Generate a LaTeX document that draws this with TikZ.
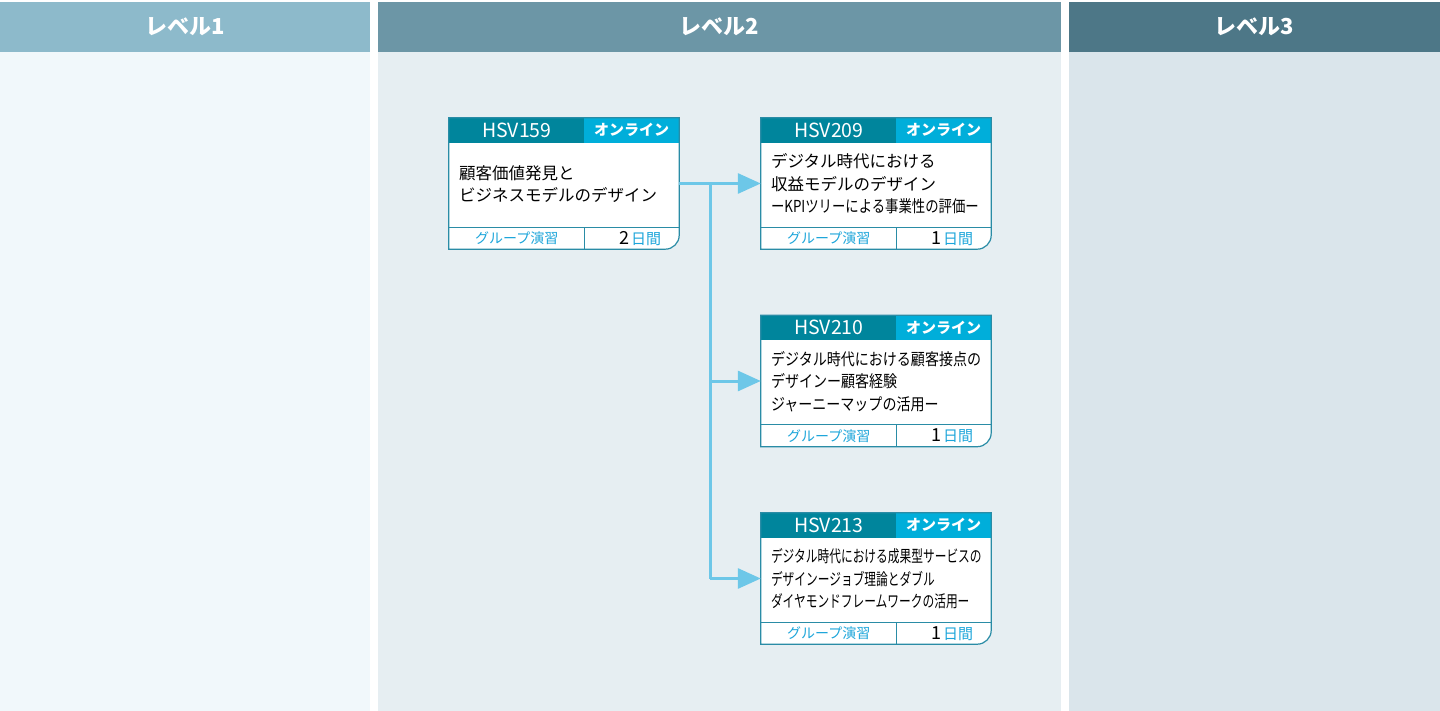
\documentclass[tikz,border=0pt]{standalone}
\usepackage{fontspec}
\setmainfont{Noto Sans CJK JP}
\usepackage{graphicx}
\usepackage{tikz}
\usetikzlibrary{positioning,calc,arrows.meta}

\definecolor{headone}{HTML}{8DBACB}
\definecolor{bodyone}{HTML}{F1F8FB}
\definecolor{headtwo}{HTML}{6C96A6}
\definecolor{bodytwo}{HTML}{E6EEF2}
\definecolor{headthree}{HTML}{4D7787}
\definecolor{bodythree}{HTML}{DAE5EB}
\definecolor{codeteal}{HTML}{00859C}
\definecolor{tagblue}{HTML}{00AEDA}
\definecolor{cardline}{HTML}{2A8CA6}
\definecolor{footblue}{HTML}{1CA5DA}
\definecolor{linkblue}{HTML}{6DC7E8}

\tikzset{
  colhead/.style={font=\fontsize{22}{22}\bfseries\selectfont, text=white},
  cardbox/.style={rectangle, minimum width=230pt, minimum height=131pt, inner sep=0pt},
  codetext/.style={font=\fontsize{19.5}{19.5}\selectfont, text=white, inner sep=0pt},
  tagtext/.style={font=\fontsize{15}{15}\bfseries\selectfont, text=white, inner sep=0pt},
  titletext/.style={font=\fontsize{16.5}{22.5}\selectfont, align=left, anchor=west, inner sep=0pt},
  formtext/.style={font=\fontsize{14}{14}\selectfont, text=footblue, inner sep=0pt},
  daystext/.style={anchor=east, inner sep=0pt},
  frame/.style={draw=cardline, line width=1.2pt},
  link/.style={draw=linkblue, line width=3pt},
  linkarrow/.style={link, -{Triangle[length=23pt,width=20pt]}}
}

% squeeze a title line sideways
\newcommand{\squeeze}[2]{\scalebox{#1}[1]{#2}}

% one course card: name, centre, code, title, days
\newcommand{\course}[5]{%
  \node[cardbox] (#1) at (#2) {};
  \fill[white] (#1.north west) -- (#1.north east) -- ($(#1.south east)+(0,-14)$)
    arc[start angle=0,end angle=-90,radius=14pt] -- (#1.south west) -- cycle;
  \fill[codeteal] (#1.north west) rectangle ($(#1.north west)+(135,25)$);
  \fill[tagblue] ($(#1.north west)+(135,0)$) rectangle ($(#1.north east)+(0,25)$);
  \node[codetext] (#1-code) at ($(#1.north west)+(68,12.5)$) {#3};
  \node[tagtext] (#1-tag) at ($(#1.north east)+(-47.5,12.5)$) {オンライン};
  \node[titletext] (#1-title) at ($(#1.west)+(10,0.5)$) {#4};
  \draw[frame] ($(#1.south west)+(0,-22)$) -- ($(#1.south east)+(0,-22)$);
  \draw[frame] ($(#1.south west)+(136,0)$) -- ++(0,-22);
  \node[formtext] (#1-form) at ($(#1.south west)+(68,-11)$) {グループ演習};
  \node[daystext] (#1-days) at ($(#1.south east)+(-18,-11)$)
    {{\fontsize{18}{18}\selectfont #5}\,{\color{footblue}\fontsize{15}{15}\selectfont 日間}};
  \draw[frame] (#1.north west) -- (#1.north east) -- ($(#1.south east)+(0,-14)$)
    arc[start angle=0,end angle=-90,radius=14pt] -- (#1.south west) -- cycle;
}

\begin{document}
\begin{tikzpicture}[x=1pt,y=-1pt]
  \useasboundingbox[fill=white] (0,0) rectangle (1440,711);

  % level columns
  \fill[headone] (0,2) rectangle (370,52);
  \fill[bodyone] (0,52) rectangle (370,711);
  \fill[headtwo] (378,2) rectangle (1061,52);
  \fill[bodytwo] (378,52) rectangle (1061,711);
  \fill[headthree] (1069,2) rectangle (1440,52);
  \fill[bodythree] (1069,52) rectangle (1440,711);
  \node[colhead] (lv1) at (185,27) {レベル1};
  \node[colhead] (lv2) at (719.5,27) {レベル2};
  \node[colhead] (lv3) at (1254.5,27) {レベル3};

  % courses
  \course{c159}{564,183.5}{HSV159}{顧客価値発見と\\ビジネスモデルのデザイン}{2}
  \course{c209}{876,183.5}{HSV209}{デジタル時代における\\収益モデルのデザイン\\\squeeze{0.81}{ーKPIツリーによる事業性の評価ー}}{1}
  \course{c210}{876,381}{HSV210}{\squeeze{0.85}{デジタル時代における顧客接点の}\\\squeeze{0.85}{デザインー顧客経験}\\\squeeze{0.85}{ジャーニーマップの活用ー}}{1}
  \course{c213}{876,578.5}{HSV213}{\squeeze{0.71}{デジタル時代における成果型サービスの}\\\squeeze{0.71}{デザインージョブ理論とダブル}\\\squeeze{0.71}{ダイヤモンドフレームワークの活用ー}}{1}

  % links
  \coordinate (split) at ($(c159.east)+(31,0)$);
  \draw[linkarrow] (c159.east) -- (c209.west);
  \draw[link] (split) -- (split |- c213.west);
  \draw[linkarrow] (split |- c210.west) -- (c210.west);
  \draw[linkarrow] (split |- c213.west) -- (c213.west);
\end{tikzpicture}
\end{document}
